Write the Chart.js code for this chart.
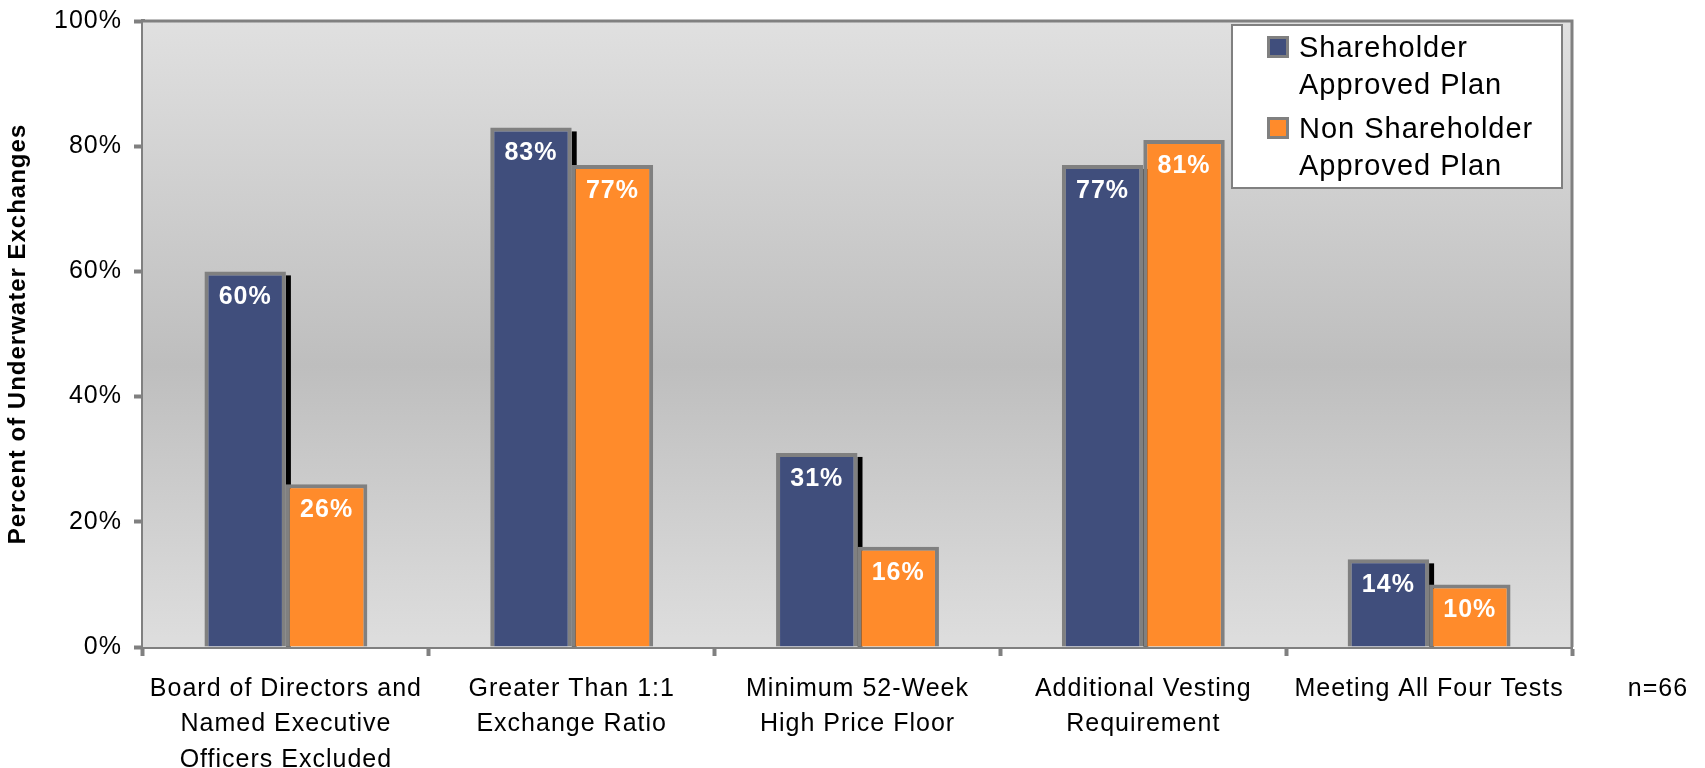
<!DOCTYPE html>
<html>
<head>
<meta charset="utf-8">
<script src="https://cdn.jsdelivr.net/npm/chart.js@4"></script>
<style>
  html, body { margin: 0; padding: 0; background: #fff; }
  #wrap { width: 1705px; height: 768px; }
</style>
</head>
<body>
<div id="wrap"><canvas id="chart" width="1705" height="768"></canvas></div>
<script>
// exchange tests
const categories = [
    ['Board of Directors and', 'Named Executive', 'Officers Excluded'],
    ['Greater Than 1:1', 'Exchange Ratio'],
    ['Minimum 52-Week', 'High Price Floor'],
    ['Additional Vesting', 'Requirement'],
    ['Meeting All Four Tests']
];
const shareholderApproved = [60, 83, 31, 77, 14];
const nonShareholderApproved = [26, 77, 16, 81, 10];
const seriesNames = [['Shareholder', 'Approved Plan'], ['Non Shareholder', 'Approved Plan']];
const yTicks = [0, 20, 40, 60, 80, 100];
const sampleNote = 'n=66';

const FONT = '"Liberation Sans", Arial, sans-serif';
const GRAY = '#808080';
const BLUE = '#404e7c';
const ORANGE = '#ff8b2b';

// plot background + top/right frame + shadow behind the blue bars
const plotBack = {
    id: 'plotBack',
    beforeLayout(chart) { chart.ctx.letterSpacing = '1px'; },
    beforeDraw(chart) { chart.ctx.letterSpacing = '1px'; },
    beforeDatasetsDraw(chart) {
        const { ctx, chartArea: a } = chart;
        ctx.save();
        const g = ctx.createLinearGradient(0, a.top, 0, a.bottom);
        g.addColorStop(0, '#e0e0e0');
        g.addColorStop(0.55, '#bebebe');
        g.addColorStop(1, '#dedede');
        ctx.fillStyle = g;
        ctx.fillRect(a.left, a.top, a.right - a.left, a.bottom - a.top);
        ctx.strokeStyle = GRAY;
        ctx.lineWidth = 3;
        ctx.beginPath();
        ctx.moveTo(a.left, a.top);
        ctx.lineTo(a.right, a.top);
        ctx.lineTo(a.right, a.bottom);
        ctx.stroke();

        ctx.fillStyle = '#000';
        chart.getDatasetMeta(0).data.forEach(bar => {
            const right = bar.x + bar.width / 2;
            ctx.fillRect(right, bar.y + 4, 5, bar.base - bar.y - 4);
        });
        ctx.restore();
    }
};

// value labels, legend box and sample size
const overlay = {
    id: 'overlay',
    afterDatasetsDraw(chart) {
        const ctx = chart.ctx;
        ctx.save();
        ctx.letterSpacing = '1px';
        ctx.font = 'bold 25px ' + FONT;
        ctx.fillStyle = '#fff';
        ctx.textAlign = 'center';
        ctx.textBaseline = 'middle';
        chart.data.datasets.forEach((ds, i) => {
            chart.getDatasetMeta(i).data.forEach((bar, j) => {
                ctx.fillText(ds.data[j] + '%', bar.x, bar.y + 26);
            });
        });
        ctx.restore();
    },
    afterDraw(chart) {
        const ctx = chart.ctx;
        ctx.save();
        ctx.letterSpacing = '1px';

        // legend
        const lx = 1232, ly = 25, lw = 330, lh = 163;
        ctx.fillStyle = '#fff';
        ctx.fillRect(lx, ly, lw, lh);
        ctx.strokeStyle = GRAY;
        ctx.lineWidth = 2;
        ctx.strokeRect(lx, ly, lw, lh);
        ctx.font = '29px ' + FONT;
        ctx.fillStyle = '#000';
        ctx.textAlign = 'left';
        ctx.textBaseline = 'alphabetic';
        const colors = [BLUE, ORANGE];
        seriesNames.forEach((lines, i) => {
            const top = 36 + i * 81;
            ctx.fillStyle = GRAY;
            ctx.fillRect(1267, top, 22, 22);
            ctx.fillStyle = colors[i];
            ctx.fillRect(1270, top + 3, 16, 16);
            ctx.fillStyle = '#000';
            lines.forEach((t, k) => ctx.fillText(t, 1299, top + 21 + k * 37));
        });

        // sample size
        ctx.font = '25px ' + FONT;
        ctx.textAlign = 'center';
        ctx.textBaseline = 'middle';
        ctx.fillText(sampleNote, 1658, 689);
        ctx.restore();
    }
};

new Chart(document.getElementById('chart'), {
    type: 'bar',
    data: {
        labels: categories,
        datasets: [{
            label: seriesNames[0].join(' '),
            data: shareholderApproved,
            backgroundColor: BLUE,
            borderColor: GRAY,
            borderWidth: 4
        }, {
            label: seriesNames[1].join(' '),
            data: nonShareholderApproved,
            backgroundColor: ORANGE,
            borderColor: GRAY,
            borderWidth: 4
        }]
    },
    options: {
        responsive: false,
        animation: false,
        events: [],
        layout: { padding: { top: 21, right: 133, left: 0, bottom: 0 } },
        categoryPercentage: 0.57,
        barPercentage: 1.0,
        scales: {
            x: {
                afterFit(scale) { scale.height = 121; },
                grid: {
                    offset: true,
                    drawOnChartArea: false,
                    drawTicks: true,
                    tickLength: 9,
                    tickWidth: 4,
                    color: GRAY
                },
                border: { color: GRAY, width: 4 },
                ticks: {
                    color: '#000',
                    padding: 15,
                    maxRotation: 0,
                    autoSkip: false,
                    font: { family: FONT, size: 25, lineHeight: 1.42 }
                }
            },
            y: {
                min: 0,
                max: 100,
                afterFit(scale) {
                    scale.width = 143;
                    scale.paddingTop = 0;
                    scale.paddingBottom = 0;
                },
                afterBuildTicks(scale) { scale.ticks = yTicks.map(v => ({ value: v })); },
                grid: {
                    drawOnChartArea: false,
                    drawTicks: true,
                    tickLength: 9,
                    tickWidth: 4,
                    color: GRAY
                },
                border: { color: GRAY, width: 4 },
                ticks: {
                    color: '#000',
                    padding: 12,
                    font: { family: FONT, size: 25 },
                    callback: v => v + '%'
                },
                title: {
                    display: true,
                    text: 'Percent of Underwater Exchanges',
                    color: '#000',
                    padding: { top: 4, bottom: 0 },
                    font: { family: FONT, size: 24, weight: 'bold' }
                }
            }
        },
        plugins: {
            legend: { display: false },
            tooltip: { enabled: false }
        }
    },
    plugins: [plotBack, overlay]
});
</script>
</body>
</html>
